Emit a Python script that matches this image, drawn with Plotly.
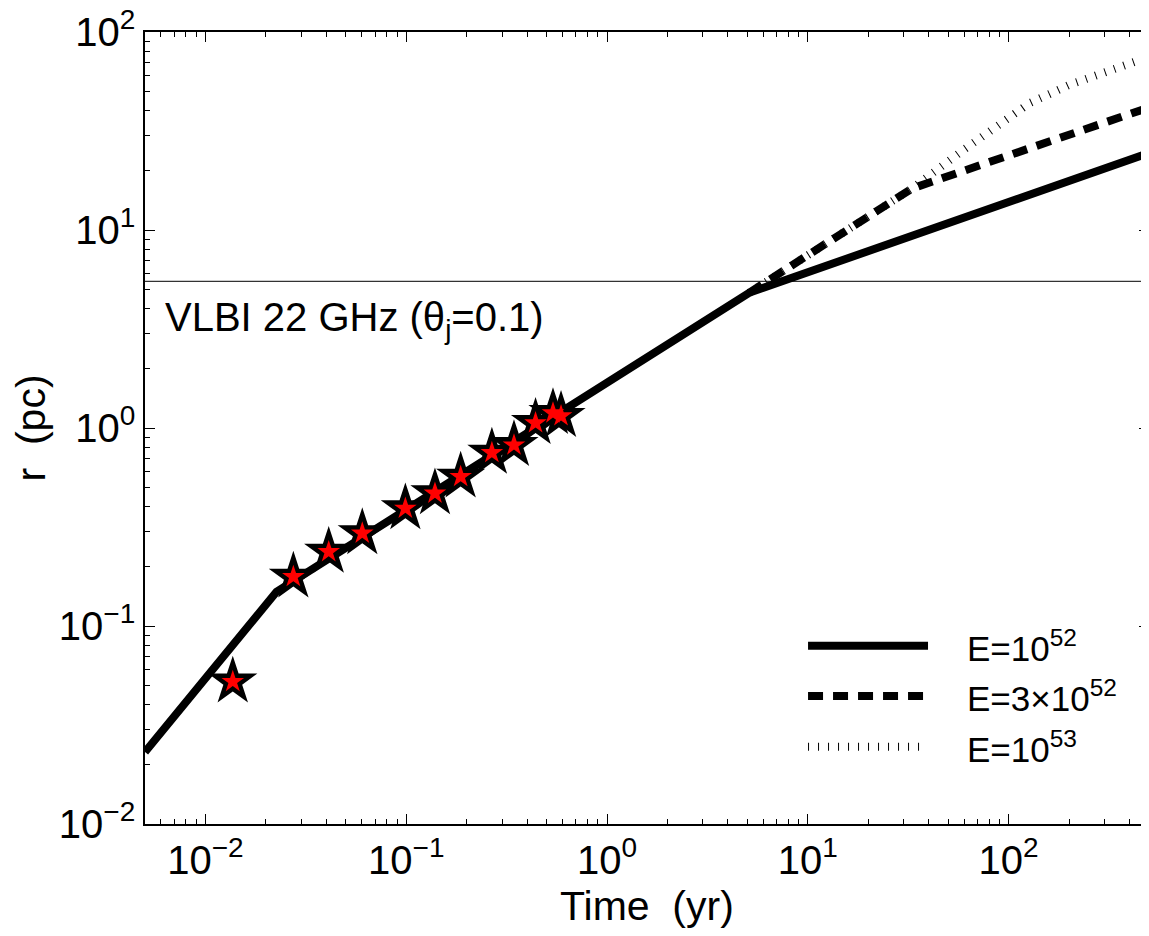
import numpy as np
import plotly.graph_objects as go

# ---- data ----
t_e52 = [0.005, 0.0226, 5.1, 500]
r_e52 = [0.0231, 0.149, 4.82, 24.5]

t_3e52 = [5.1, 33, 500]
r_3e52 = [4.82, 16.2, 41.6]

t_e53 = [5.1, 33, 60, 127, 200, 500]
r_e53 = [4.82, 16.2, 25.5, 43.7, 54, 75]

t_obs = [0.01368, 0.0274, 0.0411, 0.0604, 0.099, 0.139, 0.1866, 0.267, 0.344, 0.4405, 0.538, 0.590]
r_obs = [0.0524, 0.1775, 0.237, 0.294, 0.393, 0.468, 0.568, 0.750, 0.820, 1.06, 1.19, 1.15]

vlbi_r = 5.5
t_span = [0.005, 500]

x_tickvals = [0.01, 0.1, 1, 10, 100]
x_ticktext = ["10<sup>\u22122</sup>", "10<sup>\u22121</sup>", "10<sup>0</sup>", "10<sup>1</sup>", "10<sup>2</sup>"]
y_tickvals = [0.01, 0.1, 1, 10, 100]
y_ticktext = ["10<sup>\u22122</sup>", "10<sup>\u22121</sup>", "10<sup>0</sup>", "10<sup>1</sup>", "10<sup>2</sup>"]

legend_labels = ["E=10<sup>52</sup>", "E=3\u00d710<sup>52</sup>", "E=10<sup>53</sup>"]

FONT = "Liberation Sans, Arial, Helvetica, sans-serif"

fig = go.Figure()

# horizontal VLBI line
fig.add_trace(go.Scatter(x=t_span, y=[vlbi_r, vlbi_r], mode="lines",
                         line=dict(color="#333333", width=1.2), showlegend=False, hoverinfo="skip"))

fig.add_trace(go.Scatter(x=t_e52, y=r_e52, mode="lines", name="E=1e52",
                         line=dict(color="black", width=8), showlegend=False))
fig.add_trace(go.Scatter(x=t_3e52, y=r_3e52, mode="lines", name="E=3e52",
                         line=dict(color="black", width=8, dash="15px,10px"), showlegend=False))
fig.add_trace(go.Scatter(x=t_e53, y=r_e53, mode="lines", name="E=1e53",
                         line=dict(color="black", width=8, dash="1px,9px"), showlegend=False))

# observed points: black star outline + red star centre
fig.add_trace(go.Scatter(x=t_obs, y=r_obs, mode="markers", name="data outline",
                         marker=dict(symbol="star", size=37, color="black",
                                     line=dict(color="black", width=0)),
                         showlegend=False, hoverinfo="skip"))
fig.add_trace(go.Scatter(x=t_obs, y=r_obs, mode="markers", name="data",
                         marker=dict(symbol="star", size=17, color="red",
                                     line=dict(color="red", width=0)),
                         showlegend=False))

# VLBI annotation
fig.add_annotation(x=np.log10(0.00615), y=np.log10(3.51), xref="x", yref="y",
                   text="VLBI 22 GHz (\u03b8<sub>j</sub>=0.1)", showarrow=False,
                   xanchor="left", yanchor="middle",
                   font=dict(family=FONT, size=40, color="black"))

# manual legend (line samples + labels)
leg_y = [0.2251, 0.1616, 0.0976]
leg_dash = ["solid", "15px,10px", "1px,9px"]
for yy, dd, lab in zip(leg_y, leg_dash, legend_labels):
    fig.add_shape(type="line", xref="paper", yref="paper", x0=0.6604, x1=0.7799, y0=yy, y1=yy,
                  line=dict(color="black", width=8, dash=dd))
    fig.add_annotation(xref="paper", yref="paper", x=0.8167, y=yy,
                       text=lab, showarrow=False, xanchor="left", yanchor="middle",
                       font=dict(family=FONT, size=35, color="black"))

# x-axis title placed as annotation for exact vertical position
fig.add_annotation(xref="paper", yref="paper", x=0.5, y=-0.104,
                   text="Time\u00a0 (yr)", showarrow=False, xanchor="center", yanchor="middle",
                   font=dict(family=FONT, size=41, color="black"))

axis_common = dict(
    type="log", showgrid=False, zeroline=False,
    showline=True, linecolor="black", linewidth=1.5, mirror="allticks",
    ticks="inside", ticklen=10, tickwidth=1.2, tickcolor="black",
    tickfont=dict(family=FONT, size=40, color="black"),
    ticklabeloverflow="allow",
    minor=dict(ticks="inside", ticklen=5, tickwidth=1, tickcolor="black", dtick="D1", showgrid=False),
)

fig.update_xaxes(**axis_common, range=[np.log10(0.005), np.log10(500)],
                 tickmode="array", tickvals=x_tickvals, ticktext=x_ticktext)
fig.update_yaxes(**axis_common, range=[-2, 2],
                 tickmode="array", tickvals=y_tickvals, ticktext=y_ticktext,
                 title=dict(text="r\u00a0 (pc)", font=dict(family=FONT, size=41, color="black"), standoff=6))

fig.update_layout(width=1141, height=928,
                  margin=dict(l=137, r=0, t=24, b=112, autoexpand=False),
                  paper_bgcolor="white", plot_bgcolor="white",
                  font=dict(family=FONT, color="black"),
                  showlegend=False)

fig.write_html("out.html")
